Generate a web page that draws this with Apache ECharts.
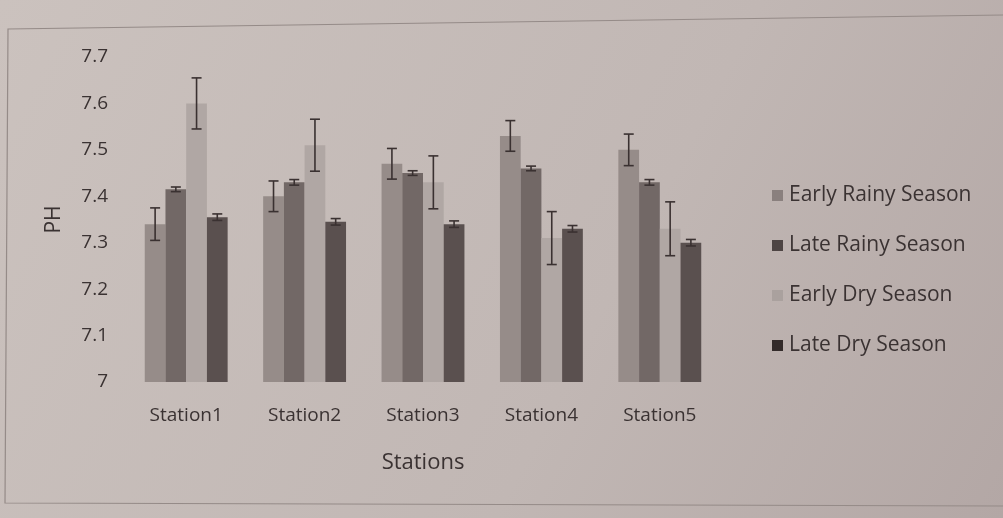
<!DOCTYPE html>
<html>
<head>
<meta charset="utf-8">
<script src="https://cdn.jsdelivr.net/npm/echarts@6/dist/echarts.min.js"></script>
<style>
  html, body { margin: 0; padding: 0; }
  #chart { width: 1003px; height: 518px; }
</style>
</head>
<body>
<div id="chart"></div>
<script>
// Mean pH per station and season, with standard error
var stations = ['Station1', 'Station2', 'Station3', 'Station4', 'Station5'];
var seasonNames = ['Early Rainy Season', 'Late Rainy Season', 'Early Dry Season', 'Late Dry Season'];

var earlyRainy = [7.34, 7.40, 7.47, 7.53, 7.50];
var lateRainy  = [7.415, 7.43, 7.45, 7.46, 7.43];
var earlyDry   = [7.60, 7.51, 7.43, 7.31, 7.33];
var lateDry    = [7.355, 7.345, 7.34, 7.33, 7.30];

var earlyRainyErr = [0.035, 0.033, 0.033, 0.033, 0.034];
var lateRainyErr  = [0.005, 0.006, 0.005, 0.005, 0.006];
var earlyDryErr   = [0.055, 0.056, 0.057, 0.057, 0.058];
var lateDryErr    = [0.007, 0.007, 0.007, 0.007, 0.007];

var yTicks = [7, 7.1, 7.2, 7.3, 7.4, 7.5, 7.6, 7.7];

var values = [earlyRainy, lateRainy, earlyDry, lateDry];
var errors = [earlyRainyErr, lateRainyErr, earlyDryErr, lateDryErr];
var colors = ['#968c89', '#726866', '#b0a7a4', '#5a504f'];
var legendColors = ['#8a807e', '#4d4443', '#aaa19e', '#332b2a'];
var textColor = '#3a3232';
var fontFamily = '"Open Sans", "Noto Sans", sans-serif';
var categoryGap = 0.30;

var chart = echarts.init(document.getElementById('chart'));

var series = [];
values.forEach(function (vals, i) {
  series.push({
    name: seasonNames[i],
    type: 'bar',
    data: vals,
    barGap: '0%',
    barCategoryGap: (categoryGap * 100) + '%',
    itemStyle: { color: colors[i] },
    emphasis: { disabled: true }
  });
});

// Error bars drawn as I-beams centred on each bar
values.forEach(function (vals, i) {
  var errData = vals.map(function (v, k) {
    return [k, v - errors[i][k], v + errors[i][k]];
  });
  series.push({
    type: 'custom',
    name: seasonNames[i] + ' error',
    data: errData,
    z: 10,
    silent: true,
    encode: { x: 0, y: [1, 2] },
    renderItem: function (params, api) {
      var band = api.size([1, 0])[0];
      var group = band * (1 - categoryGap);
      var barW = group / 4;
      var off = -group / 2 + barW * (i + 0.5);
      var lo = api.coord([api.value(0), api.value(1)]);
      var hi = api.coord([api.value(0), api.value(2)]);
      var x = lo[0] + off;
      var cap = 5;
      var style = { stroke: '#3a3131', lineWidth: 1.6 };
      return {
        type: 'group',
        children: [
          { type: 'line', shape: { x1: x, y1: lo[1], x2: x, y2: hi[1] }, style: style },
          { type: 'line', shape: { x1: x - cap, y1: lo[1], x2: x + cap, y2: lo[1] }, style: style },
          { type: 'line', shape: { x1: x - cap, y1: hi[1], x2: x + cap, y2: hi[1] }, style: style }
        ]
      };
    }
  });
});

chart.setOption({
  backgroundColor: new echarts.graphic.LinearGradient(0, 0, 1, 1, [
    { offset: 0, color: '#cbc2be' },
    { offset: 0.6, color: '#c1b7b4' },
    { offset: 1, color: '#b3a7a5' }
  ]),
  animation: false,
  textStyle: { fontFamily: fontFamily, color: textColor },
  graphic: [
    {
      type: 'polyline',
      shape: { points: [[1003, 15], [8, 29], [5, 503], [1003, 506]] },
      style: { stroke: '#958b88', lineWidth: 1.2, fill: null },
      silent: true
    }
  ],
  grid: { left: 127, right: 284, top: 57, bottom: 136 },
  legend: {
    orient: 'vertical',
    left: 767,
    top: 180,
    itemGap: 29,
    itemWidth: 11,
    itemHeight: 11,
    icon: 'rect',
    data: seasonNames.map(function (n, i) {
      return { name: n, itemStyle: { color: legendColors[i] } };
    }),
    textStyle: { fontSize: 21, color: textColor, fontFamily: fontFamily, padding: [0, 0, 0, 1] },
    selectedMode: false
  },
  xAxis: {
    type: 'category',
    data: stations,
    name: 'Stations',
    nameLocation: 'middle',
    nameGap: 70,
    nameTextStyle: { fontSize: 22, color: textColor },
    axisLine: { show: false },
    axisTick: { show: false },
    axisLabel: { fontSize: 19, color: textColor, margin: 24 }
  },
  yAxis: {
    type: 'value',
    min: yTicks[0],
    max: yTicks[yTicks.length - 1],
    interval: 0.1,
    name: 'PH',
    nameLocation: 'middle',
    nameGap: 62,
    nameRotate: 90,
    nameTextStyle: { fontSize: 21, color: textColor },
    axisLine: { show: false },
    axisTick: { show: false },
    splitLine: { show: false },
    axisLabel: {
      fontSize: 19,
      color: textColor,
      margin: 19,
      formatter: function (v) { return String(Math.round(v * 10) / 10); }
    }
  },
  series: series
});
</script>
</body>
</html>
